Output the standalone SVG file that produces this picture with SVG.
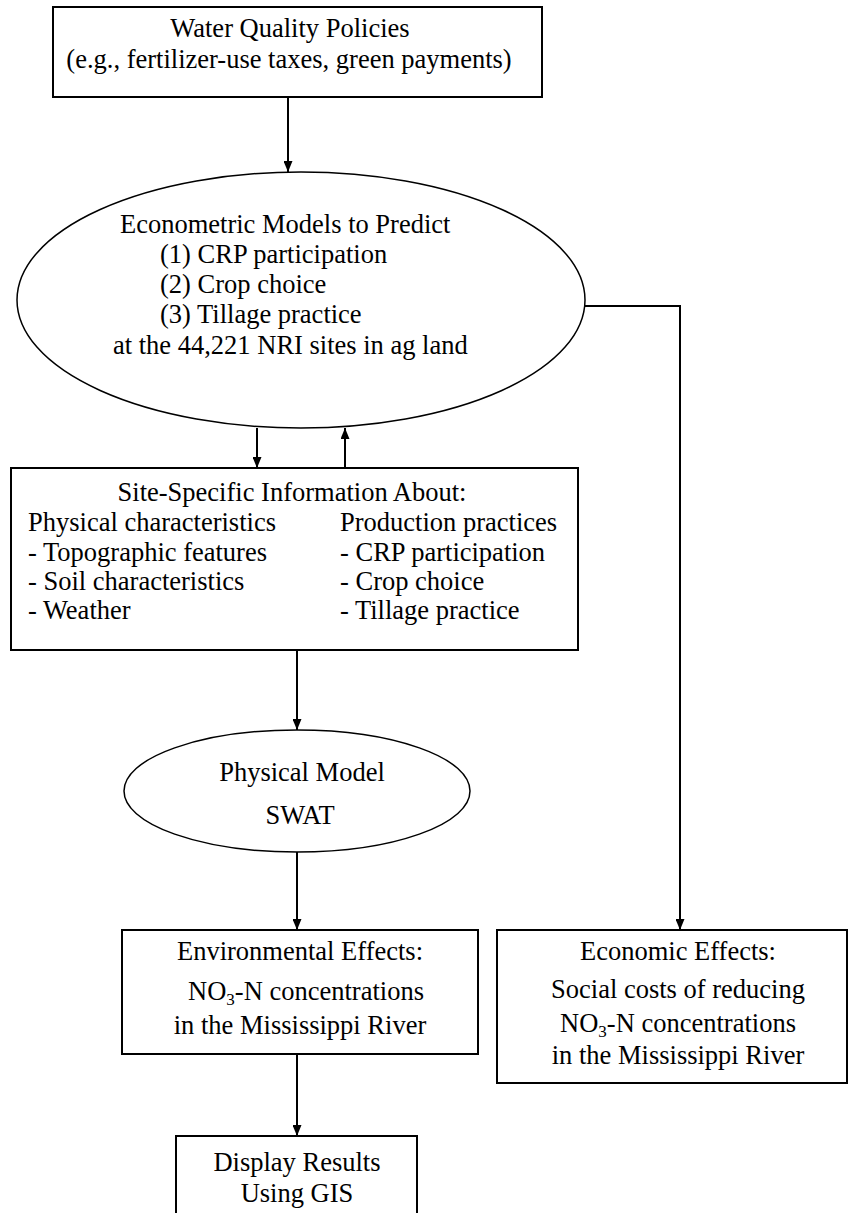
<svg xmlns="http://www.w3.org/2000/svg" width="849" height="1213" viewBox="0 0 849 1213">
<defs>
<marker id="ah" viewBox="0 0 10 10" refX="10" refY="5" markerWidth="11" markerHeight="9" orient="auto" markerUnits="userSpaceOnUse" preserveAspectRatio="none">
<path d="M0,0 L10,5 L0,10 z" fill="#000"/>
</marker>
<style>
.box{fill:#fff;stroke:#000;stroke-width:2}
.ell{fill:#fff;stroke:#000;stroke-width:1.5}
text{font-family:'Liberation Serif','Times New Roman',serif;font-size:26.5px;fill:#000}
.c{text-anchor:middle}
.ln{fill:none;stroke:#000;stroke-width:2}
</style>
</defs>
<rect width="849" height="1213" fill="#fff"/>
<g id="connectors">
<line class="ln" x1="288" y1="97" x2="288" y2="172" marker-end="url(#ah)"/>
<line class="ln" x1="257" y1="428" x2="257" y2="468" marker-end="url(#ah)"/>
<line class="ln" x1="345" y1="468" x2="345" y2="428" marker-end="url(#ah)"/>
<polyline class="ln" points="585,306 680,306 680,930" marker-end="url(#ah)"/>
<line class="ln" x1="297" y1="650" x2="297" y2="730" marker-end="url(#ah)"/>
<line class="ln" x1="297" y1="852" x2="297" y2="930" marker-end="url(#ah)"/>
<line class="ln" x1="297" y1="1054" x2="297" y2="1136" marker-end="url(#ah)"/>
</g>
<g id="policies">
<rect class="box" x="53" y="7" width="489" height="90"/>
<text class="c" x="290" y="37">Water Quality Policies</text>
<text class="c" x="289" y="68">(e.g., fertilizer-use taxes, green payments)</text>
</g>
<g id="econometric">
<ellipse class="ell" cx="301" cy="300" rx="284" ry="128"/>
<text x="120" y="233">Econometric Models to Predict</text>
<text x="160" y="263">(1) CRP participation</text>
<text x="160" y="293">(2) Crop choice</text>
<text x="160" y="323">(3) Tillage practice</text>
<text x="113" y="354">at the 44,221 NRI sites in ag land</text>
</g>
<g id="sitespecific">
<rect class="box" x="11" y="468" width="567" height="182"/>
<text class="c" x="292" y="501">Site-Specific Information About:</text>
<text x="28" y="531">Physical characteristics</text>
<text x="28" y="561">- Topographic features</text>
<text x="28" y="590">- Soil characteristics</text>
<text x="28" y="619">- Weather</text>
<text x="340" y="531">Production practices</text>
<text x="340" y="561">- CRP participation</text>
<text x="340" y="590">- Crop choice</text>
<text x="340" y="619">- Tillage practice</text>
</g>
<g id="physical">
<ellipse class="ell" cx="297" cy="791" rx="173" ry="61"/>
<text class="c" x="302" y="781">Physical Model</text>
<text class="c" x="300" y="824">SWAT</text>
</g>
<g id="environmental">
<rect class="box" x="122" y="930" width="356" height="124"/>
<text class="c" x="300" y="960">Environmental Effects:</text>
<text class="c" x="306" y="1000">NO<tspan font-size="17" dy="5">3</tspan><tspan dy="-5">-N concentrations</tspan></text>
<text class="c" x="300" y="1034">in the Mississippi River</text>
</g>
<g id="economic">
<rect class="box" x="497" y="930" width="350" height="153"/>
<text class="c" x="678" y="960">Economic Effects:</text>
<text class="c" x="678" y="998">Social costs of reducing</text>
<text class="c" x="678" y="1032">NO<tspan font-size="17" dy="5">3</tspan><tspan dy="-5">-N concentrations</tspan></text>
<text class="c" x="678" y="1064">in the Mississippi River</text>
</g>
<g id="display">
<rect class="box" x="176" y="1136" width="241" height="90"/>
<text class="c" x="297" y="1171">Display Results</text>
<text class="c" x="297" y="1202">Using GIS</text>
</g>
</svg>
